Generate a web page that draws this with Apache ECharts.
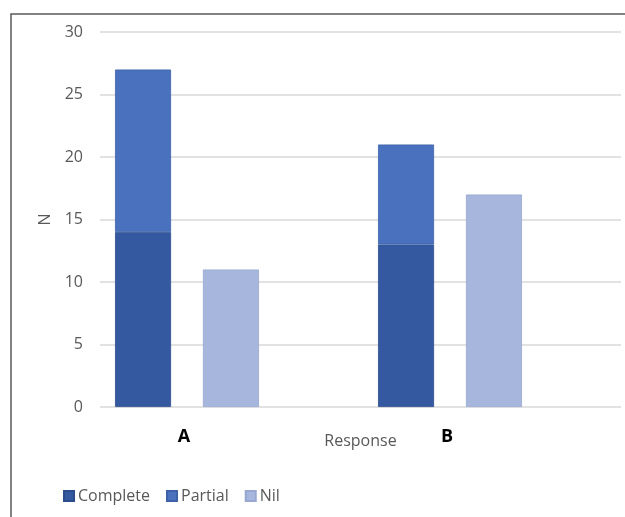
<!DOCTYPE html>
<html>
<head>
<meta charset="utf-8">
<script src="https://cdn.jsdelivr.net/npm/echarts@6/dist/echarts.min.js"></script>
<style>
  html, body { margin: 0; padding: 0; background: #fff; }
  #chart { width: 625px; height: 517px; }
</style>
</head>
<body>
<div id="chart"></div>
<script>
// Response groups and counts per outcome
const categories = ['A', 'B'];
const complete = [14, 13];
const partial = [13, 8];
const nil = [11, 17];
const yTicks = { min: 0, max: 30, interval: 5 };

const font = 'Open Sans, Noto Sans, sans-serif';
const grey = '#595959';

const chart = echarts.init(document.getElementById('chart'));
chart.setOption({
  animation: false,
  backgroundColor: '#fff',
  graphic: [{
    type: 'rect',
    shape: { x: 11, y: 14, width: 700, height: 600 },
    style: { fill: 'none', stroke: '#5a5a5a', lineWidth: 1.5 },
    silent: true
  }],
  grid: [
    { left: 100, right: 4, top: 32, bottom: 110 },
    { left: 55.5, right: 43.5, top: 32, bottom: 110 }
  ],
  legend: {
    data: ['Complete', 'Partial', 'Nil'],
    left: 58,
    top: 483,
    itemWidth: 10,
    itemHeight: 10,
    itemGap: 16,
    icon: 'rect',
    textStyle: { fontFamily: font, fontSize: 16, color: grey, padding: [0, 0, 0, -1] }
  },
  xAxis: [
    {
      gridIndex: 0, type: 'category', data: categories,
      axisLine: { show: false }, axisTick: { show: false }, axisLabel: { show: false },
      name: 'Response', nameLocation: 'middle', nameGap: 26,
      nameTextStyle: { fontFamily: font, fontSize: 16, color: grey }
    },
    {
      gridIndex: 1, type: 'category', data: categories,
      axisLine: { show: false }, axisTick: { show: false },
      axisLabel: {
        margin: 21, fontFamily: font, fontSize: 18, fontWeight: 'bold', color: '#000',
        padding: [0, 6, 0, 0]
      }
    }
  ],
  yAxis: [
    {
      gridIndex: 0, type: 'value', min: yTicks.min, max: yTicks.max, interval: yTicks.interval,
      axisLine: { show: false }, axisTick: { show: false },
      axisLabel: { margin: 17, fontFamily: font, fontSize: 16, color: grey },
      splitLine: { lineStyle: { color: '#d9d9d9', width: 1.5 } },
      name: 'N', nameLocation: 'middle', nameGap: 45,
      nameTextStyle: { fontFamily: font, fontSize: 16, color: grey }
    },
    {
      gridIndex: 1, type: 'value', min: yTicks.min, max: yTicks.max, interval: yTicks.interval,
      show: false
    }
  ],
  series: [
    {
      name: 'Complete', type: 'bar', stack: 'cp', xAxisIndex: 1, yAxisIndex: 1,
      data: complete, barWidth: 56, barGap: '57%',
      itemStyle: { color: '#3459a0', borderColor: '#2c4c8c', borderWidth: 0.8 }
    },
    {
      name: 'Partial', type: 'bar', stack: 'cp', xAxisIndex: 1, yAxisIndex: 1,
      data: partial, barWidth: 56, barGap: '57%',
      itemStyle: { color: '#4a71bd', borderColor: '#3d62a8', borderWidth: 0.8 }
    },
    {
      name: 'Nil', type: 'bar', xAxisIndex: 1, yAxisIndex: 1,
      data: nil, barWidth: 56, barGap: '57%',
      itemStyle: { color: '#a7b6dc', borderColor: '#97a7d0', borderWidth: 0.8 }
    }
  ]
});
</script>
</body>
</html>
